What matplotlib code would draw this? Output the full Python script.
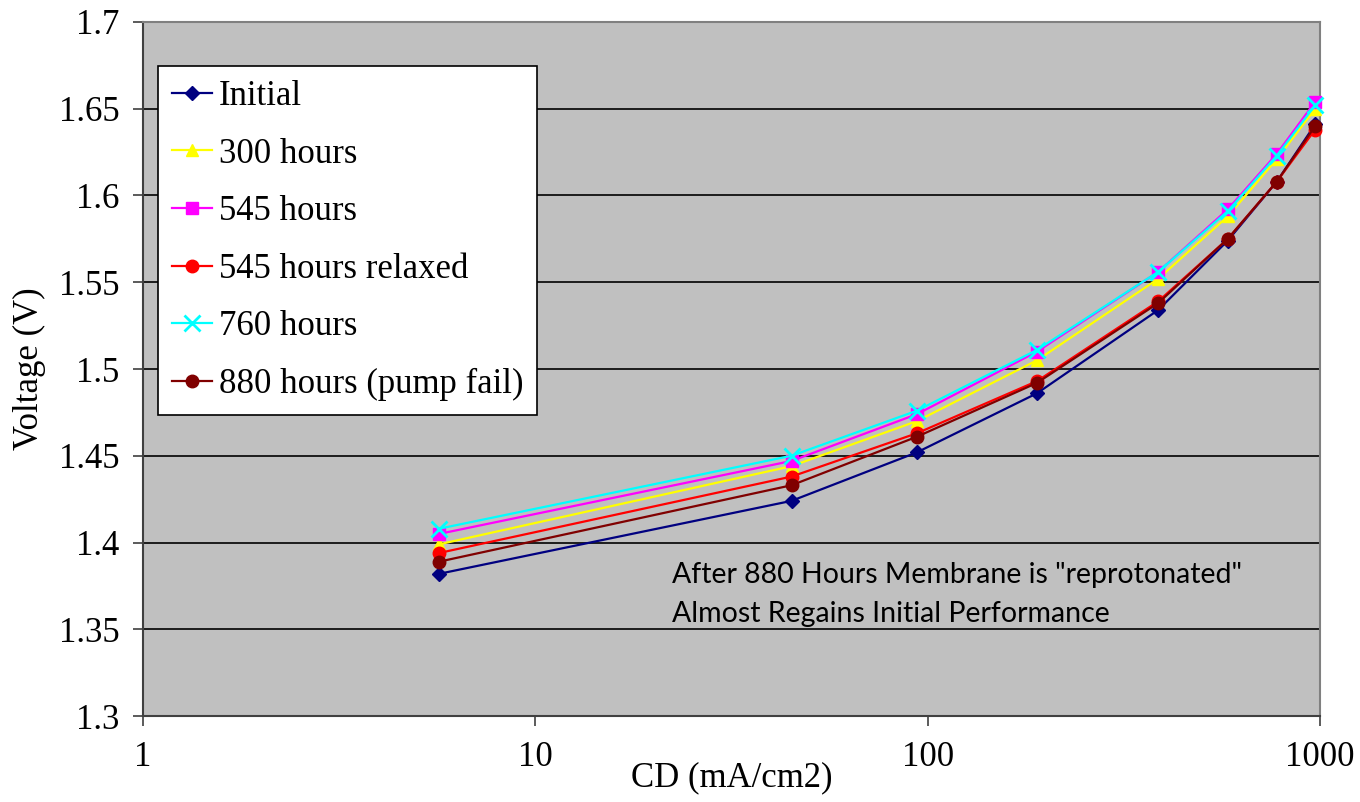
import matplotlib
matplotlib.use("Agg")
import matplotlib.pyplot as plt
from matplotlib.ticker import FixedLocator, FuncFormatter, NullLocator

# current density (mA/cm2)
cd = [5.7, 45, 94, 190, 387, 582, 776, 972]

# voltages (V) per test
initial = [1.382, 1.424, 1.452, 1.486, 1.534, 1.574, 1.608, 1.641]
h300 = [1.399, 1.444, 1.470, 1.505, 1.552, 1.588, 1.621, 1.650]
h545 = [1.405, 1.447, 1.474, 1.510, 1.556, 1.592, 1.624, 1.654]
h545_relaxed = [1.394, 1.438, 1.463, 1.493, 1.539, 1.575, 1.608, 1.638]
h760 = [1.408, 1.450, 1.476, 1.511, 1.556, 1.591, 1.623, 1.652]
h880 = [1.389, 1.433, 1.461, 1.492, 1.538, 1.575, 1.608, 1.640]

labels = ["Initial", "300 hours", "545 hours", "545 hours relaxed",
          "760 hours", "880 hours (pump fail)"]
y_ticks = [1.3, 1.35, 1.4, 1.45, 1.5, 1.55, 1.6, 1.65, 1.7]
x_ticks = [1, 10, 100, 1000]

serif = "Liberation Serif"

fig = plt.figure(figsize=(13.6, 8.02), dpi=100)
ax = fig.add_axes([0.105, 0.1072, 0.8656, 0.8654])
ax.set_facecolor("#C0C0C0")

styles = [
    dict(color="#000080", marker="D", ms=7),
    dict(color="#FFFF00", marker="^", ms=8),
    dict(color="#FF00FF", marker="s", ms=8),
    dict(color="#FF0000", marker="o", ms=9),
    dict(color="#00FFFF", marker="x", ms=11, mew=2),
    dict(color="#800000", marker="o", ms=9),
]
series = [initial, h300, h545, h545_relaxed, h760, h880]
for vals, lab, st in zip(series, labels, styles):
    ax.plot(cd, vals, lw=1.6, label=lab, clip_on=False, zorder=3, **st)

ax.set_xscale("log")
ax.set_xlim(1, 1000)
ax.set_ylim(1.3, 1.7)
ax.xaxis.set_major_locator(FixedLocator(x_ticks))
ax.xaxis.set_minor_locator(NullLocator())
ax.xaxis.set_major_formatter(FuncFormatter(lambda v, p: "%d" % v))
ax.yaxis.set_major_locator(FixedLocator(y_ticks))
ax.yaxis.set_major_formatter(FuncFormatter(lambda v, p: "%g" % v))
ax.grid(axis="y", color="black", lw=1.2, zorder=1)
ax.set_axisbelow(True)

ax.tick_params(axis="both", direction="out", length=7, width=1.2,
               labelsize=25, color="#404040")
ax.tick_params(axis="x", pad=11)
ax.tick_params(axis="y", pad=10)
for lab in ax.get_xticklabels() + ax.get_yticklabels():
    lab.set_fontfamily(serif)

for side in ["left", "bottom"]:
    ax.spines[side].set_color("#404040")
    ax.spines[side].set_linewidth(1.5)
for side in ["top", "right"]:
    ax.spines[side].set_color("#808080")
    ax.spines[side].set_linewidth(1.5)

ax.set_xlabel("CD (mA/cm2)", fontsize=25, fontfamily=serif, labelpad=-9)
ax.set_ylabel("Voltage (V)", fontsize=25, fontfamily=serif, labelpad=9)

leg = ax.legend(loc="upper left", bbox_to_anchor=(0.0127, 0.9366),
                borderaxespad=0, prop={"family": serif, "size": 25},
                handlelength=1.15, handletextpad=0.2, borderpad=0.4,
                labelspacing=0.71, fancybox=False, framealpha=1,
                edgecolor="black")
leg.get_frame().set_linewidth(1.2)

ax.text(0.4494, 0.1912, 'After 880 Hours Membrane is "reprotonated"',
        transform=ax.transAxes, fontsize=20.5, fontfamily="Lato",
        va="baseline", ha="left")
ax.text(0.4494, 0.1359, "Almost Regains Initial Performance",
        transform=ax.transAxes, fontsize=20.5, fontfamily="Lato",
        va="baseline", ha="left")

fig.savefig("out.png", dpi=100)
plt.close(fig)
